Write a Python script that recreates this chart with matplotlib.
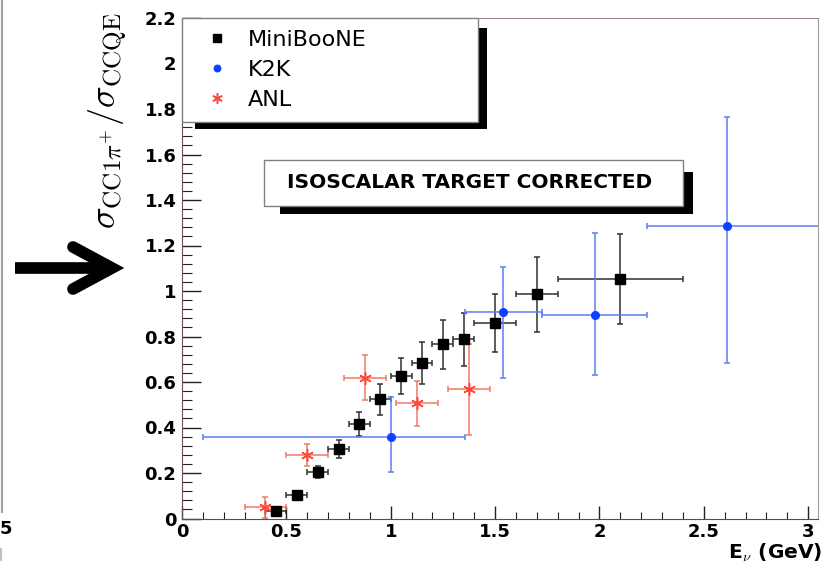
import numpy as np
import matplotlib.pyplot as plt
from matplotlib.patches import Rectangle
from matplotlib.lines import Line2D
from matplotlib.ticker import MultipleLocator

plt.rcParams['mathtext.fontset'] = 'cm'

# MiniBooNE
mb_x = [0.45, 0.55, 0.65, 0.75, 0.85, 0.95, 1.05, 1.15, 1.25, 1.35, 1.5, 1.7, 2.1]
mb_y = [0.034, 0.103, 0.206, 0.304, 0.415, 0.524, 0.626, 0.682, 0.766, 0.788, 0.859, 0.985, 1.053]
mb_yerr = [0.01, 0.015, 0.026, 0.039, 0.051, 0.069, 0.079, 0.092, 0.108, 0.116, 0.126, 0.165, 0.196]
mb_xerr = [0.05, 0.05, 0.05, 0.05, 0.05, 0.05, 0.05, 0.05, 0.05, 0.05, 0.1, 0.1, 0.3]

# K2K (asymmetric errors)
k2k_x = [1.0, 1.537, 1.98, 2.61]
k2k_y = [0.357, 0.906, 0.893, 1.287]
k2k_ylo = [0.151, 0.287, 0.264, 0.605]
k2k_yhi = [0.178, 0.201, 0.361, 0.478]
k2k_xlo = [0.90, 0.18, 0.256, 0.383]
k2k_xhi = [0.356, 0.187, 0.247, 0.5]

# ANL
anl_x = [0.40, 0.60, 0.875, 1.125, 1.375]
anl_y = [0.049, 0.279, 0.619, 0.506, 0.568]
anl_yerr = [0.047, 0.05, 0.10, 0.10, 0.20]
anl_xerr = [0.1, 0.1, 0.1, 0.1, 0.1]

W, H = 827, 577
def fx(px):
    return px / W
def fy(py):
    return 1 - py / H

fig = plt.figure(figsize=(8.27, 5.77), dpi=100)
ax = fig.add_axes([fx(182), fy(518.5), (818 - 182) / W, (518.5 - 18) / H])

mb = ax.errorbar(mb_x, mb_y, yerr=mb_yerr, xerr=mb_xerr, fmt='s', color='black',
                 ms=7, ecolor='#303030', elinewidth=1.1, capsize=2.5, capthick=1.1, zorder=3)
k2k = ax.errorbar(k2k_x, k2k_y, yerr=[k2k_ylo, k2k_yhi], xerr=[k2k_xlo, k2k_xhi], fmt='o',
                  color='#1040ff', ms=5.5, ecolor='#5c7ff0', elinewidth=1.1, capsize=2.5,
                  capthick=1.1, zorder=3)
anl = ax.errorbar(anl_x, anl_y, yerr=anl_yerr, xerr=anl_xerr, fmt='none',
                  ecolor='#f07a6a', elinewidth=1.1, capsize=2.5, capthick=1.1, zorder=3)
anl_pts, = ax.plot(anl_x, anl_y, ls='none', marker=(6, 2, 0), ms=9, mew=1.1,
                   color='#ff4a3a', zorder=4)

ax.set_xlim(0, 3.047)
ax.set_ylim(0, 2.2)

ax.xaxis.set_minor_locator(MultipleLocator(0.1))
ax.yaxis.set_minor_locator(MultipleLocator(0.04))
ax.set_xticks([0, 0.5, 1, 1.5, 2, 2.5, 3])
ax.set_xticklabels(['0', '0.5', '1', '1.5', '2', '2.5', '3'])
ax.set_yticks(np.round(np.arange(0, 2.21, 0.2), 1))
ax.set_yticklabels(['0', '0.2', '0.4', '0.6', '0.8', '1', '1.2', '1.4', '1.6', '1.8', '2', '2.2'])
ax.tick_params(axis='x', which='major', direction='in', length=9.5, width=1, color='#222222',
               labelsize=13, pad=3)
ax.tick_params(axis='x', which='minor', direction='in', length=5, width=0.8, color='#222222')
ax.tick_params(axis='y', which='major', direction='in', length=13.5, width=1, color='#222222',
               labelsize=13, pad=4)
ax.tick_params(axis='y', which='minor', direction='in', length=7, width=0.8, color='#222222')
for lab in ax.get_xticklabels() + ax.get_yticklabels():
    lab.set_fontweight('bold')

ax.spines['left'].set_color('#705050')
ax.spines['bottom'].set_color('#505050')
ax.spines['top'].set_color('#a08080')
ax.spines['top'].set_linewidth(0.7)
ax.spines['right'].set_color('#a0a0a0')

# legend with black shadow
leg = ax.legend([mb[0], k2k[0], anl_pts], ['MiniBooNE', 'K2K', 'ANL'],
                loc='upper left', bbox_to_anchor=(0, 0.5, (478 - 182) / 636, 0.5),
                mode='expand', borderaxespad=0, fontsize=16, frameon=True,
                fancybox=False, framealpha=1, edgecolor='#808080',
                borderpad=0.54, labelspacing=0.45, handlelength=2.1, handletextpad=0.31,
                markerscale=0.85)
leg.get_frame().set_linewidth(1.0)
leg.set_zorder(6)
ax.add_patch(Rectangle((fx(195), fy(129)), fx(487) - fx(195), fy(28) - fy(129),
                       transform=fig.transFigure, facecolor='black', edgecolor='none',
                       clip_on=False, zorder=5))

# text pave
ax.add_patch(Rectangle((fx(280), fy(214)), fx(693) - fx(280), fy(172) - fy(214),
                       transform=fig.transFigure, facecolor='black', edgecolor='none',
                       clip_on=False, zorder=5))
ax.add_patch(Rectangle((fx(264), fy(206)), fx(683) - fx(264), fy(160) - fy(206),
                       transform=fig.transFigure, facecolor='white', edgecolor='#808080',
                       lw=1.0, clip_on=False, zorder=6))
ax.text(fx(470), fy(183), 'ISOSCALAR TARGET CORRECTED', transform=fig.transFigure,
        ha='center', va='center', fontsize=14.5, fontweight='bold', zorder=7)

# axis titles
fig.text(fx(822), fy(553), r'E$_{\nu}$ (GeV)', ha='right', va='center',
         fontsize=14.5, fontweight='bold')
fig.text(fx(108), fy(121), r'$\sigma_{\rm CC1\pi^{+}}/\sigma_{\rm CCQE}$', rotation=90,
         ha='center', va='center', fontsize=26)

# big arrow pointing at the y title
fig.add_artist(Line2D([fx(15), fx(108)], [fy(268), fy(268)], transform=fig.transFigure,
                      color='black', lw=8.4, solid_capstyle='butt'))
fig.add_artist(Line2D([fx(73), fx(112), fx(73)], [fy(247), fy(268), fy(289)],
                      transform=fig.transFigure, color='black', lw=8.4,
                      solid_capstyle='round', solid_joinstyle='miter'))

# leftover edge of the neighbouring panel
fig.add_artist(Line2D([fx(2), fx(2)], [fy(0), fy(512)], transform=fig.transFigure,
                      color='#a0a0a0', lw=1.5))
fig.add_artist(Line2D([fx(1), fx(1)], [fy(549), fy(560)], transform=fig.transFigure,
                      color='#c0c0c0', lw=1.5))
fig.text(fx(0), fy(529), '5', ha='left', va='center', fontsize=13, fontweight='bold')

plt.savefig('out.png', dpi=100)
